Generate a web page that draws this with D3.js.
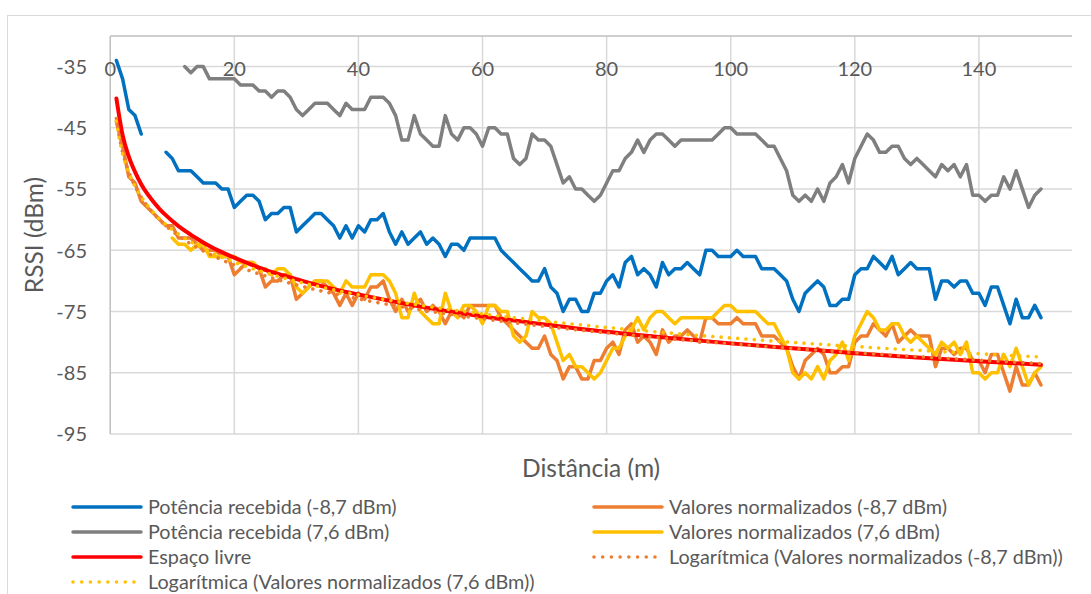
<!DOCTYPE html>
<html>
<head>
<meta charset="utf-8">
<script src="https://cdn.jsdelivr.net/npm/d3@7"></script>
<style>
  body { margin: 0; background: #fff; }
  svg { display: block; }
  text { font-family: Lato, "Open Sans", sans-serif; fill: #595959; }
</style>
</head>
<body>
<svg id="chart" width="1091" height="594"></svg>
<script>
// Distance of each measurement (m)
const distancia = d3.range(1, 151);

// Received power, transmitter at -8,7 dBm (null = no reading)
const potenciaMenos87 = [
  -34, -37, -42, -43, -46, null, null, null, -49, -50,
  -52, -52, -52, -53, -54, -54, -54, -55, -55, -58,
  -57, -56, -56, -57, -60, -59, -59, -58, -58, -62,
  -61, -60, -59, -59, -60, -61, -63, -61, -63, -61,
  -62, -60, -60, -59, -62, -64, -62, -64, -63, -62,
  -64, -63, -64, -66, -64, -64, -65, -63, -63, -63,
  -63, -63, -65, -66, -67, -68, -69, -70, -70, -68,
  -71, -72, -75, -73, -73, -75, -75, -72, -72, -70,
  -69, -71, -67, -66, -69, -68, -69, -71, -67, -69,
  -68, -68, -67, -68, -69, -65, -65, -66, -66, -66,
  -65, -66, -66, -66, -68, -68, -68, -69, -70, -73,
  -75, -72, -71, -70, -71, -74, -74, -73, -73, -69,
  -68, -68, -66, -67, -68, -66, -69, -68, -67, -68,
  -68, -68, -73, -70, -70, -71, -70, -70, -72, -72,
  -74, -71, -71, -74, -77, -73, -76, -76, -74, -76
];

// Received power, transmitter at 7,6 dBm
const potencia76 = [
  null, null, null, null, null, null, null, null, null, null,
  null, -35, -36, -35, -35, -37, -37, -37, -37, -37,
  -38, -38, -38, -39, -39, -40, -39, -39, -40, -42,
  -43, -42, -41, -41, -41, -42, -43, -41, -42, -42,
  -42, -40, -40, -40, -41, -43, -47, -47, -43, -46,
  -47, -48, -48, -43, -46, -47, -45, -45, -46, -48,
  -45, -45, -46, -46, -50, -51, -50, -46, -47, -47,
  -48, -51, -54, -53, -55, -55, -56, -57, -56, -54,
  -52, -52, -50, -49, -47, -49, -47, -46, -46, -47,
  -48, -47, -47, -47, -47, -47, -47, -46, -45, -45,
  -46, -46, -46, -46, -47, -48, -48, -50, -52, -56,
  -57, -56, -57, -55, -57, -54, -53, -51, -54, -50,
  -48, -46, -47, -49, -49, -48, -48, -50, -51, -50,
  -51, -52, -53, -51, -52, -51, -53, -51, -56, -56,
  -57, -56, -56, -53, -55, -52, -55, -58, -56, -55
];

// Normalized values, -8,7 dBm
const normMenos87 = [
  -44, -48, -53, -54, -57, -58, -59, -60, -61, -61,
  -63, -63, -63, -64, -65, -65, -65, -66, -66, -69,
  -68, -67, -67, -68, -71, -70, -70, -69, -69, -73,
  -72, -71, -70, -70, -71, -72, -74, -72, -74, -72,
  -73, -71, -71, -70, -73, -75, -73, -75, -74, -73,
  -75, -74, -75, -77, -75, -75, -76, -74, -74, -74,
  -74, -74, -76, -77, -78, -79, -80, -81, -81, -79,
  -82, -83, -86, -84, -84, -86, -86, -83, -83, -81,
  -80, -82, -78, -77, -80, -79, -80, -82, -78, -80,
  -79, -79, -78, -79, -80, -76, -76, -77, -77, -77,
  -76, -77, -77, -77, -79, -79, -79, -80, -81, -84,
  -86, -83, -82, -81, -82, -85, -85, -84, -84, -80,
  -79, -79, -77, -78, -79, -77, -80, -79, -78, -79,
  -79, -79, -84, -81, -81, -82, -81, -81, -83, -83,
  -85, -82, -82, -85, -88, -84, -87, -87, -85, -87
];

// Normalized values, 7,6 dBm
const norm76 = [
  null, null, null, null, null, null, null, null, null, -63,
  -64, -64, -65, -64, -64, -66, -66, -66, -66, -66,
  -67, -67, -67, -68, -68, -69, -68, -68, -69, -71,
  -72, -71, -70, -70, -70, -71, -72, -70, -71, -71,
  -71, -69, -69, -69, -70, -72, -76, -76, -72, -75,
  -76, -77, -77, -72, -75, -76, -74, -74, -75, -77,
  -74, -74, -75, -75, -79, -80, -79, -75, -76, -76,
  -77, -80, -83, -82, -84, -84, -85, -86, -85, -83,
  -81, -81, -79, -78, -76, -78, -76, -75, -75, -76,
  -77, -76, -76, -76, -76, -76, -76, -75, -74, -74,
  -75, -75, -75, -75, -76, -77, -77, -79, -81, -85,
  -86, -85, -86, -84, -86, -83, -82, -80, -83, -79,
  -77, -75, -76, -78, -78, -77, -77, -79, -80, -79,
  -80, -81, -82, -80, -81, -80, -82, -80, -85, -85,
  -86, -85, -85, -82, -84, -81, -84, -87, -85, -84
];

// Free-space reference curve
const livreDist = [1, 2, 3, 4, 5, 6, 7, 8, 9, 10, 12, 14, 16, 18, 20, 25, 30, 35, 40, 50,
                   60, 70, 80, 90, 100, 110, 120, 130, 140, 150];
const livreValor = [-40.2, -46.2, -49.7, -52.2, -54.2, -55.8, -57.1, -58.3, -59.3, -60.2,
                    -61.8, -63.1, -64.3, -65.3, -66.2, -68.2, -69.7, -71.1, -72.2, -74.2,
                    -75.8, -77.1, -78.3, -79.3, -80.2, -81.0, -81.8, -82.5, -83.1, -83.7];

const yTicks = [-35, -45, -55, -65, -75, -85, -95];
const xTicks = [0, 20, 40, 60, 80, 100, 120, 140];

const cores = {
  azul: "#0070C0", laranja: "#ED7D31", cinza: "#7F7F7F",
  amarelo: "#FFC000", vermelho: "#FF0000"
};

const svg = d3.select("#chart");
svg.append("rect").attr("width", 1091).attr("height", 594).attr("fill", "#fff");
// chart frame
svg.append("rect").attr("x", 7.5).attr("y", 15.5).attr("width", 1100).attr("height", 600)
  .attr("fill", "none").attr("stroke", "#d9d9d9").attr("stroke-width", 1);

const plot = { left: 110.2, right: 1072, top: 36, bottom: 434 };
const x = d3.scaleLinear().domain([0, 155]).range([plot.left, plot.right]);
const y = d3.scaleLinear().domain([-95, -30]).range([plot.bottom, plot.top]);

// gridlines
const grid = svg.append("g");
grid.selectAll("line.h").data(yTicks).join("line")
  .attr("x1", plot.left).attr("x2", plot.right)
  .attr("y1", d => y(d)).attr("y2", d => y(d))
  .attr("stroke", "#d9d9d9").attr("stroke-width", 1.5);
grid.selectAll("line.v").data(xTicks.filter(d => d > 0)).join("line")
  .attr("x1", d => x(d)).attr("x2", d => x(d))
  .attr("y1", plot.top).attr("y2", plot.bottom)
  .attr("stroke", "#d9d9d9").attr("stroke-width", 1.5);
// axis lines
grid.append("line").attr("x1", x(0)).attr("x2", x(0)).attr("y1", plot.top).attr("y2", plot.bottom)
  .attr("stroke", "#bfbfbf").attr("stroke-width", 1.5);
grid.append("line").attr("x1", plot.left).attr("x2", plot.right).attr("y1", y(-30)).attr("y2", y(-30))
  .attr("stroke", "#bfbfbf").attr("stroke-width", 1.5);

// tick labels
svg.append("g").selectAll("text").data(yTicks).join("text")
  .attr("x", 87).attr("y", d => y(d)).attr("dy", "0.36em")
  .attr("text-anchor", "end").style("font-size", "20px")
  .text(d => d);
svg.append("g").selectAll("text").data(xTicks).join("text")
  .attr("x", d => x(d)).attr("y", 68.5).attr("dy", "0.36em")
  .attr("text-anchor", "middle").style("font-size", "20px")
  .text(d => d);

// axis titles
svg.append("text").attr("transform", `translate(34,${(plot.top + plot.bottom) / 2}) rotate(-90)`)
  .attr("text-anchor", "middle").attr("dy", "0.36em").style("font-size", "24.5px")
  .text("RSSI (dBm)");
svg.append("text").attr("x", (plot.left + plot.right) / 2).attr("y", 468).attr("dy", "0.36em")
  .attr("text-anchor", "middle").style("font-size", "24.5px")
  .text("Distância (m)");

// data
svg.append("clipPath").attr("id", "area").append("rect")
  .attr("x", plot.left).attr("y", plot.top)
  .attr("width", plot.right - plot.left).attr("height", plot.bottom - plot.top);
const series = svg.append("g").attr("clip-path", "url(#area)");

const linha = d3.line()
  .defined(d => d[1] != null)
  .x(d => x(d[0])).y(d => y(d[1]));

function desenha(valores, cor, largura) {
  series.append("path")
    .datum(distancia.map((d, i) => [d, valores[i]]))
    .attr("d", linha)
    .attr("fill", "none").attr("stroke", cor).attr("stroke-width", largura)
    .attr("stroke-linejoin", "round").attr("stroke-linecap", "round");
}

desenha(potenciaMenos87, cores.azul, 3.5);
desenha(normMenos87, cores.laranja, 3.5);
desenha(potencia76, cores.cinza, 3.5);
desenha(norm76, cores.amarelo, 3.5);

series.append("path")
  .datum(livreDist.map((d, i) => [d, livreValor[i]]))
  .attr("d", d3.line().curve(d3.curveMonotoneX).x(d => x(d[0])).y(d => y(d[1])))
  .attr("fill", "none").attr("stroke", cores.vermelho).attr("stroke-width", 4)
  .attr("stroke-linecap", "round");

// logarithmic least-squares trendline  y = a ln(x) + b
function ajusteLog(xs, ys) {
  const p = xs.map((d, i) => [Math.log(d), ys[i]]).filter(d => d[1] != null);
  const mx = d3.mean(p, d => d[0]), my = d3.mean(p, d => d[1]);
  const a = d3.sum(p, d => (d[0] - mx) * (d[1] - my)) / d3.sum(p, d => (d[0] - mx) ** 2);
  return { a, b: my - a * mx };
}
function tendencia(valores, cor) {
  const f = ajusteLog(distancia, valores);
  const pts = d3.range(1, 150.01, 0.5).map(d => [d, f.a * Math.log(d) + f.b]);
  series.append("path").datum(pts)
    .attr("d", d3.line().x(d => x(d[0])).y(d => y(d[1])))
    .attr("fill", "none").attr("stroke", cor).attr("stroke-width", 3.6)
    .attr("stroke-linecap", "round").attr("stroke-dasharray", "0.01 8.3");
}
tendencia(normMenos87, cores.laranja);
tendencia(norm76, cores.amarelo);

// legend
const legenda = [
  { t: "Potência recebida (-8,7 dBm)", c: cores.azul, col: 0, row: 0 },
  { t: "Valores normalizados (-8,7 dBm)", c: cores.laranja, col: 1, row: 0 },
  { t: "Potência recebida (7,6 dBm)", c: cores.cinza, col: 0, row: 1 },
  { t: "Valores normalizados (7,6 dBm)", c: cores.amarelo, col: 1, row: 1 },
  { t: "Espaço livre", c: cores.vermelho, col: 0, row: 2 },
  { t: "Logarítmica (Valores normalizados (-8,7 dBm))", c: cores.laranja, col: 1, row: 2, dot: true },
  { t: "Logarítmica (Valores normalizados (7,6 dBm))", c: cores.amarelo, col: 0, row: 3, dot: true }
];
const colX = [73, 594];
const rowY = [507, 532, 557, 582];
const leg = svg.append("g").selectAll("g").data(legenda).join("g")
  .attr("transform", d => `translate(${colX[d.col]},${rowY[d.row]})`);
leg.append("line").attr("x1", 0).attr("x2", 68)
  .attr("stroke", d => d.c).attr("stroke-width", d => d.dot ? 3.6 : 3.5)
  .attr("stroke-linecap", "round")
  .attr("stroke-dasharray", d => d.dot ? "0.01 8.7" : null);
leg.append("text").attr("x", 75).attr("dy", "0.36em").style("font-size", "19.8px")
  .text(d => d.t);
</script>
</body>
</html>
